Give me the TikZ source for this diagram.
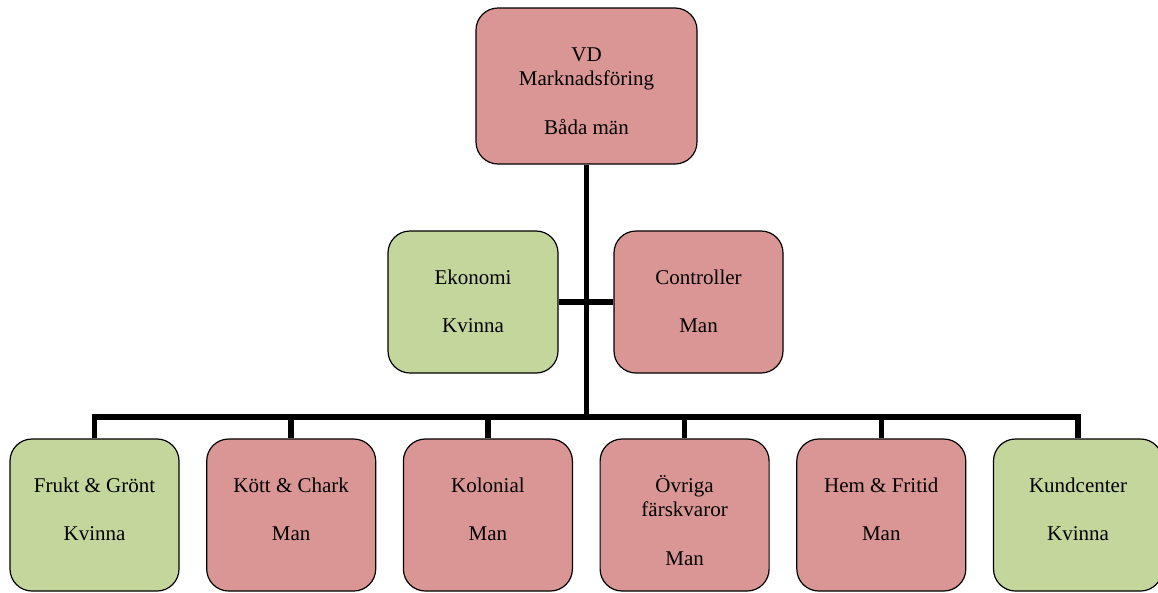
\documentclass[tikz,border=0pt]{standalone}
\usepackage{fontspec}
\setmainfont{Liberation Serif}
\usetikzlibrary{calc}

\definecolor{manred}{HTML}{D99694}
\definecolor{kvinnagreen}{HTML}{C3D69B}

% text of one box: width, height, lines (top aligned)
\newcommand{\unittext}[3]{\parbox[c][#2][t]{#1}{\centering\rule{0pt}{53pt}#3}}

\begin{document}
\begin{tikzpicture}[x=1pt, y=-1pt,
	unit/.style={draw=black, line width=1.2pt, rounded corners=22pt, inner sep=0pt,
		font=\fontsize{21}{24.5}\selectfont},
	man/.style={unit, fill=manred},
	kvinna/.style={unit, fill=kvinnagreen},
	link/.style={line width=5.5pt}]
	
	\useasboundingbox (0,0) rectangle (1158,592);
	\clip (0,0) rectangle (1158,592);
	
	% parameters
	\def\busy{417}      % height of the long bar
	\def\rowy{515}      % centre of the bottom row
	
	% top
	\node[man] (vd) at (586.5,86) {\unittext{221pt}{156pt}{VD\\Marknadsföring\\[24pt]Båda män}};
	
	% staff
	\node[kvinna] (ekonomi) at (473,302) {\unittext{170pt}{142pt}{Ekonomi\\[24pt]Kvinna}};
	\node[man] (controller) at (698.5,302) {\unittext{169pt}{142pt}{Controller\\[24pt]Man}};
	
	% departments
	\node[kvinna] (frukt) at (94.5,\rowy) {\unittext{169pt}{152pt}{Frukt \& Grönt\\[24pt]Kvinna}};
	\node[man] (kott) at (291.2,\rowy) {\unittext{169pt}{152pt}{Kött \& Chark\\[24pt]Man}};
	\node[man] (kolonial) at (487.9,\rowy) {\unittext{169pt}{152pt}{Kolonial\\[24pt]Man}};
	\node[man] (ovriga) at (684.6,\rowy) {\unittext{169pt}{152pt}{Övriga\\färskvaror\\[24pt]Man}};
	\node[man] (hem) at (881.3,\rowy) {\unittext{169pt}{152pt}{Hem \& Fritid\\[24pt]Man}};
	\node[kvinna] (kundcenter) at (1078,\rowy) {\unittext{169pt}{152pt}{Kundcenter\\[24pt]Kvinna}};
	
	% lines
	\coordinate (hub) at (vd.south |- 0,\busy);
	\draw[link] (vd.south) -- (hub);
	\draw[link] (ekonomi.east) -- (controller.west);
	\draw[link] (frukt.north) |- (hub) -| (kundcenter.north);
	\foreach \dept in {kott,kolonial,ovriga,hem}
	\draw[link] (\dept.north) -- (\dept.north |- hub);
\end{tikzpicture}
\end{document}
